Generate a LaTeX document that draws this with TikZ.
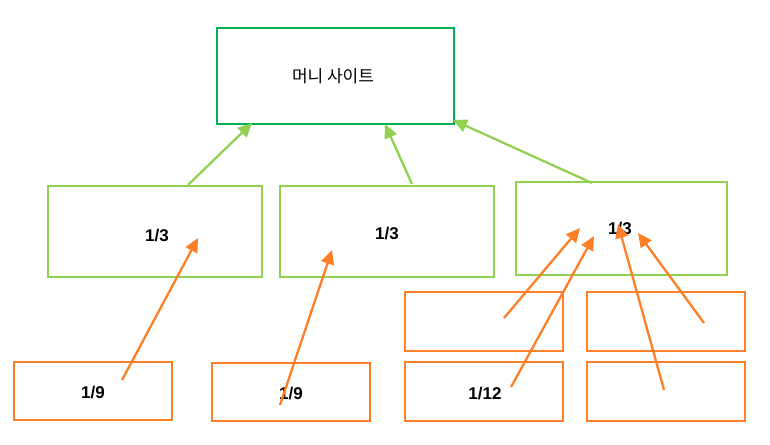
\documentclass[tikz,border=0pt]{standalone}
\usepackage{fontspec}
\setmainfont{Liberation Sans}
\newfontfamily\kofont{Noto Sans CJK KR}
\usetikzlibrary{arrows.meta}
\definecolor{darkgr}{RGB}{0,176,80}
\definecolor{litegr}{RGB}{146,208,80}
\definecolor{orng}{RGB}{255,127,39}
\tikzset{
  money/.style={draw=darkgr, line width=2.5pt},
  tier/.style={draw=litegr, line width=2.3pt},
  feed/.style={draw=orng, line width=2.3pt},
  lbl/.style={font=\bfseries\fontsize{17}{19}\selectfont},
  up/.style={-{Triangle[length=14pt,width=13pt]}, line width=2.3pt},
}
\begin{document}
\begin{tikzpicture}[x=1pt,y=-1pt]
    \useasboundingbox (0,0) rectangle (770,444);
    % top box
    \draw[money] (217,28) rectangle (454,124);
    \node (M) at (333,76) {\kofont\fontsize{17}{19}\selectfont 머니 사이트};
    % middle tier
    \draw[tier] (48,186) rectangle (262,277);
    \draw[tier] (280,186) rectangle (494,277);
    \draw[tier] (516,182) rectangle (727,275);
    \node[lbl] (A) at (157,236) {1/3};
    \node[lbl] (B) at (387,234) {1/3};
    \node[lbl] (C) at (620,229) {1/3};
    % bottom tier
    \draw[feed] (14,362) rectangle (172,420);
    \draw[feed] (212,363) rectangle (370,421);
    \draw[feed] (405,362) rectangle (563,421);
    \draw[feed] (405,292) rectangle (563,351);
    \draw[feed] (587,292) rectangle (745,351);
    \draw[feed] (587,362) rectangle (745,421);
    \node[lbl] (a1) at (93,393) {1/9};
    \node[lbl] (b1) at (291,394) {1/9};
    \node[lbl] (c1) at (485,394) {1/12};
    % arrow ends
    \coordinate (gA) at (188,185);  \coordinate (tA) at (252,123);
    \coordinate (gB) at (412,184);  \coordinate (tB) at (385,124);
    \coordinate (gC) at (592,183);  \coordinate (tC) at (453,120);
    \coordinate (o1) at (122,380);  \coordinate (h1) at (198,238);
    \coordinate (o2) at (280,405);  \coordinate (h2) at (332,250);
    \coordinate (o3) at (504,318);  \coordinate (h3) at (580,228);
    \coordinate (o4) at (511,387);  \coordinate (h4) at (594,236);
    \coordinate (o5) at (664,390);  \coordinate (h5) at (618,224);
    \coordinate (o6) at (704,323);  \coordinate (h6) at (638,233);
    \foreach \s/\t in {gA/tA,gB/tB,gC/tC}
        \draw[up, litegr] (\s) -- (\t);
    \foreach \s/\t in {o1/h1,o2/h2,o3/h3,o4/h4,o5/h5,o6/h6}
        \draw[up, orng] (\s) -- (\t);
\end{tikzpicture}
\end{document}
